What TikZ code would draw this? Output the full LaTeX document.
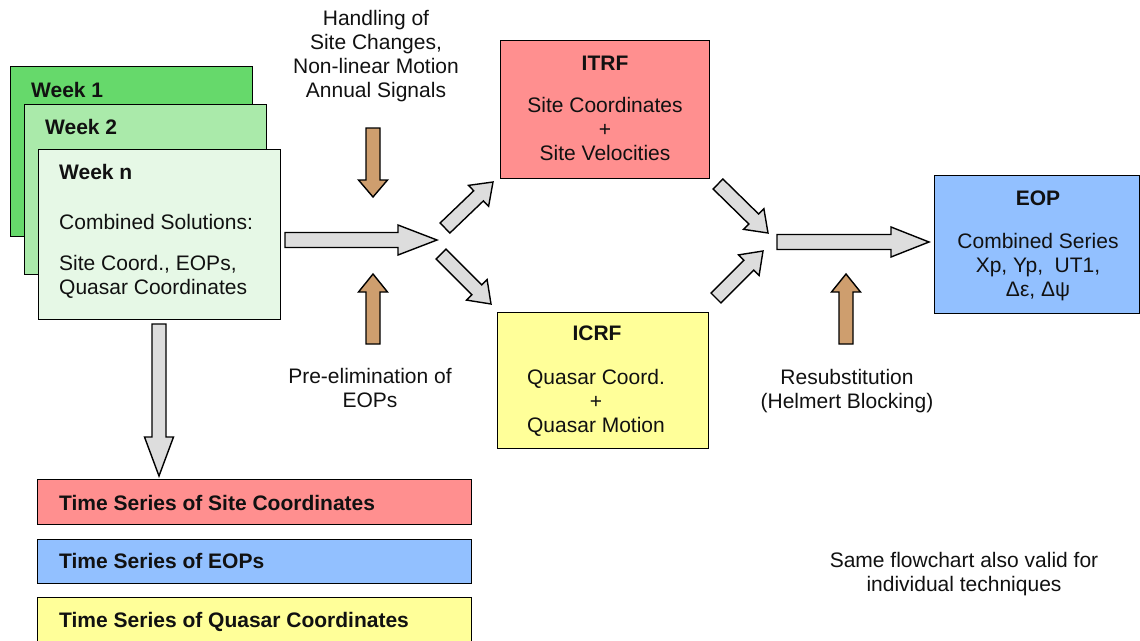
\documentclass[tikz,border=0pt]{standalone}
\usepackage{fontspec}
\setmainfont{Liberation Sans}
\usetikzlibrary{calc}
\definecolor{gA}{RGB}{102,217,107}
\definecolor{gB}{RGB}{170,234,170}
\definecolor{gC}{RGB}{230,248,230}
\definecolor{rbox}{RGB}{255,143,143}
\definecolor{ybox}{RGB}{255,255,153}
\definecolor{bbox}{RGB}{146,192,255}
\definecolor{garr}{RGB}{221,221,221}
\definecolor{brarr}{RGB}{206,158,110}
\definecolor{txt}{RGB}{17,17,17}
\newcommand{\fsz}{\fontsize{21}{24}\selectfont}
% block arrow: #1 style, #2 from, #3 to, #4 shaft half width, #5 head half width, #6 head length
\newcommand{\bkarrow}[6]{%
  \coordinate (bkH) at ($(#3)!#6!(#2)$);
  \draw[#1] ($(#2)!#4!90:(#3)$) -- ($(bkH)!#4!-90:(#2)$) -- ($(bkH)!#5!-90:(#2)$) -- (#3)
     -- ($(bkH)!#5!90:(#2)$) -- ($(bkH)!#4!90:(#2)$) -- ($(#2)!#4!-90:(#3)$) -- cycle;}
\begin{document}
\begin{tikzpicture}[x=1pt,y=-1pt,
  box/.style={draw=black, line width=1.4pt, rectangle, inner sep=0pt, anchor=north west},
  lbl/.style={inner sep=0pt, text=txt, font=\fsz},
  blbl/.style={inner sep=0pt, text=txt, font=\fsz\bfseries},
  grayarrow/.style={draw=black, line width=1.4pt, fill=garr, line join=miter},
  brownarrow/.style={draw=black, line width=1.4pt, fill=brarr, line join=miter}]
\useasboundingbox (0,0) rectangle (1140,640);
\begin{scope}
\clip (0,0) rectangle (1140,640);
% week boxes
\node[box, fill=gA, minimum width=242pt, minimum height=170pt] (w1) at (10,66) {};
\node[blbl, anchor=base west] (w1t) at (31,97) {Week 1};
\node[box, fill=gB, minimum width=242pt, minimum height=170pt] (w2) at (24,104) {};
\node[blbl, anchor=base west] (w2t) at (45,134) {Week 2};
\node[box, fill=gC, minimum width=242pt, minimum height=170pt] (wn) at (38,149) {};
\node[blbl, anchor=base west] (wnt) at (59,179) {Week n};
\node[lbl, anchor=base west] (wnc) at (59,229) {Combined Solutions:};
\node[lbl, anchor=base west, align=left] (wns) at (59,294) {Site Coord., EOPs,\\Quasar Coordinates};
% ITRF
\node[box, fill=rbox, minimum width=209pt, minimum height=138pt] (itrf) at (500,40) {};
\node[blbl, anchor=base] (itrft) at (605,70) {ITRF};
\node[lbl, anchor=base, align=center] (itrfs) at (605,160) {Site Coordinates\\+\\Site Velocities};
% ICRF
\node[box, fill=ybox, minimum width=211pt, minimum height=136pt] (icrf) at (497,312) {};
\node[blbl, anchor=base] (icrft) at (597,340) {ICRF};
\node[lbl, anchor=base, align=center] (icrfs) at (596,432) {Quasar Coord.\\+\\Quasar Motion};
% EOP
\node[box, fill=bbox, minimum width=205pt, minimum height=138pt] (eop) at (934,175) {};
\node[blbl, anchor=base] (eopt) at (1038,205) {EOP};
\node[lbl, anchor=base, align=center] (eops) at (1038,296) {Combined Series\\Xp, Yp,\ \ UT1,\\Δε, Δψ};
% side texts
\node[lbl, anchor=base, align=center] (hand) at (376,97) {Handling of\\Site Changes,\\Non-linear Motion\\Annual Signals};
\node[lbl, anchor=base, align=center] (pre) at (370,407) {Pre-elimination of\\EOPs};
\node[lbl, anchor=base, align=center] (resub) at (847,408) {Resubstitution\\(Helmert Blocking)};
\node[lbl, anchor=base, align=center] (same) at (964,591) {Same flowchart also valid for\\individual techniques};
% time series boxes
\node[box, fill=rbox, minimum width=434pt, minimum height=45pt] (ts1) at (37,479) {};
\node[blbl, anchor=base west] (ts1t) at (59,510) {Time Series of Site Coordinates};
\node[box, fill=bbox, minimum width=434pt, minimum height=44pt] (ts2) at (37,539) {};
\node[blbl, anchor=base west] (ts2t) at (59,568) {Time Series of EOPs};
\node[box, fill=ybox, minimum width=434pt, minimum height=60pt] (ts3) at (37,597) {};
\node[blbl, anchor=base west] (ts3t) at (59,627) {Time Series of Quasar Coordinates};
% arrow end points
\coordinate (a1s) at (285,240); \coordinate (a1e) at (437,240);
\coordinate (a2s) at (445,228); \coordinate (a2e) at (493,182);
\coordinate (a3s) at (441,254); \coordinate (a3e) at (491,304);
\coordinate (a4s) at (718,184); \coordinate (a4e) at (768,233);
\coordinate (a5s) at (716,298); \coordinate (a5e) at (763,251);
\coordinate (a6s) at (777,242); \coordinate (a6e) at (929,242);
\coordinate (a7s) at (159,324); \coordinate (a7e) at (159,476);
\coordinate (b1s) at (373,128); \coordinate (b1e) at (373,197);
\coordinate (b2s) at (373,344); \coordinate (b2e) at (373,274);
\coordinate (b3s) at (846,344); \coordinate (b3e) at (846,274);
\bkarrow{grayarrow}{a1s}{a1e}{7.5pt}{15pt}{39pt}
\bkarrow{grayarrow}{a2s}{a2e}{7pt}{14.5pt}{20pt}
\bkarrow{grayarrow}{a3s}{a3e}{7pt}{14.5pt}{20pt}
\bkarrow{grayarrow}{a4s}{a4e}{7pt}{14.5pt}{20pt}
\bkarrow{grayarrow}{a5s}{a5e}{7pt}{14.5pt}{20pt}
\bkarrow{grayarrow}{a6s}{a6e}{7.5pt}{15pt}{38pt}
\bkarrow{grayarrow}{a7s}{a7e}{7pt}{14.5pt}{39pt}
\bkarrow{brownarrow}{b1s}{b1e}{7pt}{14.5pt}{17pt}
\bkarrow{brownarrow}{b2s}{b2e}{7pt}{14.5pt}{18pt}
\bkarrow{brownarrow}{b3s}{b3e}{7pt}{14.5pt}{18pt}
\end{scope}
\end{tikzpicture}
\end{document}
